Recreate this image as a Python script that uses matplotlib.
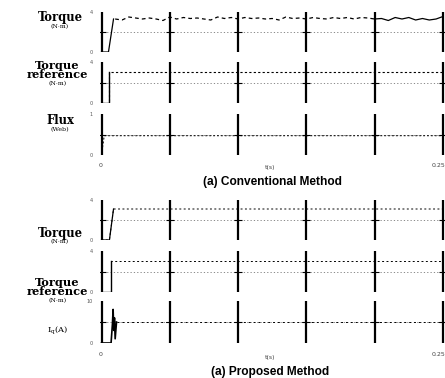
import matplotlib

matplotlib.use("Agg")

import matplotlib.pyplot as plt
import numpy as np

W, H = 445, 378

# time grid of the scope traces (s)
t_ripple = np.arange(0.010, 0.2501, 0.005)

# (a) conventional method
torque_conv_start_t = [0.0, 0.0051, 0.0088]
torque_conv_start_v = [0.0, 0.0, 3.3]
torque_conv_ripple = [3.3, 3.2, 3.5, 3.4, 3.3, 3.4, 3.3, 3.15, 3.5, 3.3,
                      3.45, 3.35, 3.4, 3.3, 3.2, 3.5, 3.35, 3.45, 3.3, 3.45,
                      3.35, 3.4, 3.3, 3.35, 3.2, 3.5, 3.35, 3.4, 3.3, 3.45,
                      3.35, 3.3, 3.45, 3.35, 3.45, 3.3, 3.45, 3.4, 3.3, 3.35,
                      3.15, 3.45, 3.3, 3.45, 3.2, 3.35, 3.2, 3.3, 3.55]
tref_conv_t = [0.0, 0.0058, 0.0058, 0.25]
tref_conv_v = [0.0, 0.0, 3.0, 3.0]
flux_conv_t = [0.0, 0.002, 0.25]
flux_conv_v = [0.0, 0.47, 0.47]

# (b) proposed method
torque_prop_t = [0.0, 0.0058, 0.0088, 0.25]
torque_prop_v = [0.0, 0.0, 3.1, 3.1]
tref_prop_t = [0.0, 0.0066, 0.0066, 0.25]
tref_prop_v = [0.0, 0.0, 3.0, 3.0]
iq_prop_t = [0.0, 0.0070, 0.0080, 0.0085, 0.0090, 0.0095, 0.0100, 0.0110, 0.25]
iq_prop_v = [0.0, 0.0, 4.5, 8.0, 3.0, 6.0, 1.0, 5.0, 5.0]

divisions = [0.0, 0.05, 0.10, 0.15, 0.20, 0.25]


def px_box(top, bottom, left=100, right=445):
    return [left / W, 1 - bottom / H, (right - left) / W, (bottom - top) / H]


def base_axes(fig, top, bottom, ymax, ylabels, levels):
    ax = fig.add_axes(px_box(top, bottom))
    ax.set_xlim(-0.0011, 0.2515)
    ax.set_ylim(0, ymax)
    for s in ax.spines.values():
        s.set_visible(False)
    ax.set_xticks([])
    ax.set_yticks([0, ymax])
    ax.set_yticklabels(ylabels, fontsize=3.5, color="#555555")
    ax.tick_params(axis="y", length=0, pad=5)
    for lv in levels:
        ax.axhline(lv, color="#777777", lw=0.6, ls=(0, (1.5, 2.5)))
    for d in divisions:
        ax.axvline(d, color="black", lw=1.6)
    ax.plot(divisions, [ymax / 2] * len(divisions), ls="none", marker="_",
            ms=6, mew=0.8, color="black")
    return ax


def label(text, x, y, size, **kw):
    fig.text(x / W, 1 - y / H, text, ha="center", va="center", fontsize=size, **kw)


fig = plt.figure(figsize=(W / 100, H / 100), dpi=100)

serif = ["DejaVu Serif"]

ax1 = base_axes(fig, 12, 52, 4, ["0", "4"], [0, 2])
ax1.plot(torque_conv_start_t, torque_conv_start_v, color="black", lw=0.9)
ax1.plot(t_ripple[t_ripple < 0.2], np.array(torque_conv_ripple)[t_ripple < 0.2],
         color="black", lw=0.9, ls=(0, (3, 2.5)))
ax1.plot(t_ripple[t_ripple >= 0.195], np.array(torque_conv_ripple)[t_ripple >= 0.195],
         color="black", lw=0.9)

ax2 = base_axes(fig, 62, 103, 4, ["0", "4"], [0, 2])
ax2.plot(tref_conv_t, tref_conv_v, color="black", lw=0.8, ls=(0, (2, 2)))
ax2.plot(tref_conv_t[:3], tref_conv_v[:3], color="black", lw=1.0)

ax3 = base_axes(fig, 114, 155, 1, ["0", "1"], [0.5])
ax3.plot(flux_conv_t, flux_conv_v, color="black", lw=0.7, ls=(0, (2, 2)))

ax4 = base_axes(fig, 200, 240, 4, ["0", "4"], [0, 2])
ax4.plot(torque_prop_t, torque_prop_v, color="black", lw=0.7, ls=(0, (2, 2.5)))
ax4.plot(torque_prop_t[:3], torque_prop_v[:3], color="black", lw=0.9)

ax5 = base_axes(fig, 251, 292, 4, ["0", "4"], [0, 2])
ax5.plot(tref_prop_t, tref_prop_v, color="black", lw=0.7, ls=(0, (2, 2.5)))
ax5.plot(tref_prop_t[:3], tref_prop_v[:3], color="black", lw=1.0)

ax6 = base_axes(fig, 301, 343, 10, ["0", "10"], [0, 5])
ax6.plot(iq_prop_t[:8], iq_prop_v[:8], color="black", lw=1.2)
ax6.plot(iq_prop_t[7:], iq_prop_v[7:], color="black", lw=0.7, ls=(0, (2, 3)))

# left channel names
name = dict(family=serif, fontweight="semibold", linespacing=0.8)
label("Torque", 60, 18, 8.4, **name)
label("(N·m)", 60, 27, 4.5, family=serif)
label("Torque\nreference", 57, 70, 8.2, **name)
label("(N·m)", 58, 84, 4.5, family=serif)
label("Flux", 60, 121, 8.4, **name)
label("(Web)", 60, 130, 4.5, family=serif)

label("Torque", 60, 233, 8.4, **name)
label("(N·m)", 60, 242, 4.5, family=serif)
label("Torque\nreference", 57, 287, 8.2, **name)
label("(N·m)", 58, 301, 4.5, family=serif)
label("$\\mathregular{I_q}$(A)", 58, 330, 6, family=serif)

# time axis labels
for y_lab, y_t in [(166, 168), (354, 358)]:
    label("0", 101, y_lab, 4.5, color="#444444")
    label("t(s)", 270, y_t, 4.5, color="#444444")
    label("0.25", 439, y_lab, 4.5, color="#444444")

title = dict(family=["Liberation Sans", "DejaVu Sans"], fontweight="bold")
label("(a) Conventional Method", 272, 182, 8.6, **title)
label("(a) Proposed Method", 270, 372, 8.6, **title)

fig.savefig("out.png", dpi=100)
plt.close(fig)
